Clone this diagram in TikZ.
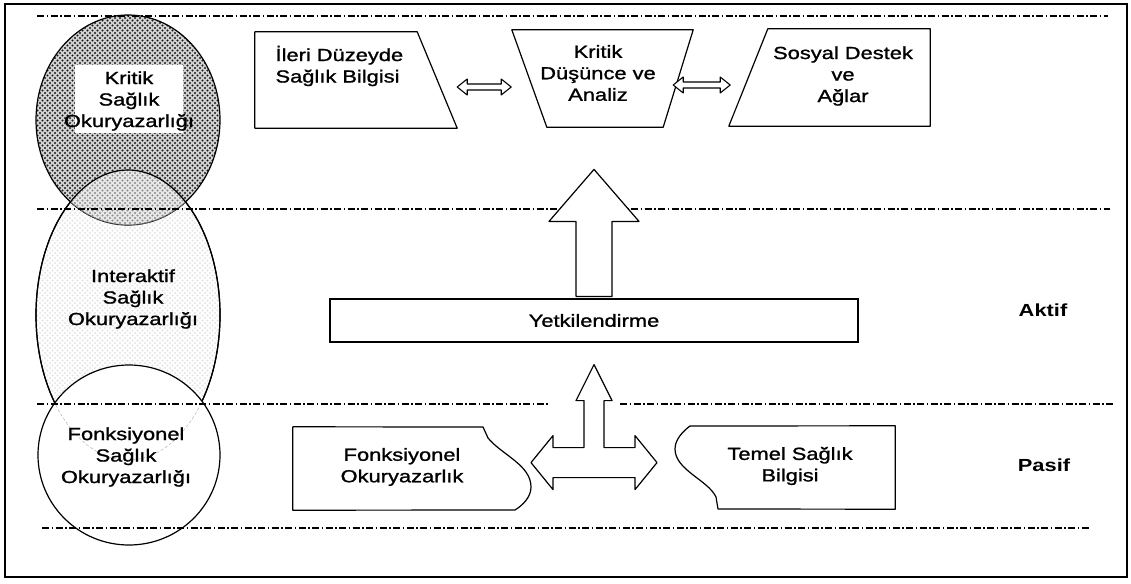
\documentclass[tikz,border=0pt]{standalone}
\usepackage{fontspec}
\setmainfont{Liberation Sans}[FakeStretch=1.25, UprightFeatures={FakeBold=1.2}]
\usetikzlibrary{calc, patterns}

\pgfdeclarepatternformonly{scandots}{\pgfpoint{-1.2pt}{-1.2pt}}{\pgfpoint{3.7pt}{3.7pt}}{\pgfpoint{5pt}{5pt}}{%
  \pgfpathcircle{\pgfpoint{0pt}{0pt}}{1.1pt}
  \pgfpathcircle{\pgfpoint{2.5pt}{2.5pt}}{1.1pt}
  \pgfusepath{fill}}

\begin{document}
\begin{tikzpicture}[
    x=1pt, y=-1pt,
    every node/.style={font=\fontsize{17.5}{21.5}\selectfont, align=center},
    area/.style 2 args={minimum width=#1, minimum height=#2, inner sep=0pt},
    shp/.style={draw, line width=1.2pt, line join=round},
    lvl/.style={line width=1.2pt, dash pattern=on 7pt off 2.5pt on 1.5pt off 2.5pt},
    dbl/.style={draw, fill=white, line width=1.1pt, line join=round},
    blk/.style={draw, fill=white, line width=1.2pt, line join=round},
    lbl/.style={font=\fontsize{17.5}{21.5}\selectfont\bfseries}
  ]
    \useasboundingbox (0,0) rectangle (1131,583);
    \draw[line width=2.4pt] (5,4) rectangle (1127,577);

    % literacy levels
    \draw[shp, preaction={fill=white}, pattern=scandots, pattern color=gray!22]
      (128,315) ellipse [x radius=92pt, y radius=145pt];
    \draw[shp, preaction={fill=gray!35}, pattern=scandots, pattern color=black!90]
      (128,120) ellipse [x radius=92pt, y radius=105pt];
    \begin{scope}
      \clip (128,315) ellipse [x radius=92pt, y radius=145pt];
      \fill[white, opacity=0.5] (128,120) ellipse [x radius=92pt, y radius=105pt];
      \draw[gray, densely dashed] (128,120) ellipse [x radius=92pt, y radius=105pt];
    \end{scope}
    \draw[shp] (128,315) ellipse [x radius=92pt, y radius=145pt];
    \draw[shp, fill=white] (129,455) ellipse [x radius=91pt, y radius=90pt];
    \begin{scope}
      \clip (129,455) ellipse [x radius=91pt, y radius=90pt];
      \draw[gray!70, densely dashed] (128,315) ellipse [x radius=92pt, y radius=145pt];
    \end{scope}

    \draw[lvl] (37,16) -- (1108,16);
    \draw[lvl] (37,209) -- (1110,209);
    \draw[lvl] (37,404) -- (550,404);
    \draw[lvl] (620,404) -- (1113,404);
    \draw[lvl] (42,528) -- (1090,528);

    \node[area={108pt}{68pt}, fill=white] (kritikbg) at (129,99) {};
    \node (kritiksk) at (129,101) {Kritik\\Sağlık\\Okuryazarlığı};
    \node (interaktif) at (133,299) {Interaktif\\Sağlık\\Okuryazarlığı};
    \node (fonksk) at (126,457) {Fonksiyonel\\Sağlık\\Okuryazarlığı};

    % top row
    \node[area={202pt}{96pt}] (ileri) at (356,80) {};
    \draw[shp] (ileri.north west) -- ($(ileri.north east)+(-40,0)$) -- (ileri.south east) -- (ileri.south west) -- cycle;
    \node[anchor=west, align=left] (ileritxt) at (272,66) {İleri Düzeyde\\Sağlık Bilgisi};

    \node[area={181pt}{97pt}] (kritik) at (602.5,78.5) {};
    \draw[shp] (kritik.north west) -- (kritik.north east) -- ($(kritik.south east)+(-30,0)$) -- ($(kritik.south west)+(35,0)$) -- cycle;
    \node (kritiktxt) at (598,73) {Kritik\\Düşünce ve\\Analiz};

    \node[area={201pt}{97pt}] (sosyal) at (829.5,77.5) {};
    \draw[shp] ($(sosyal.north west)+(39,0)$) -- (sosyal.north east) -- (sosyal.south east) -- (sosyal.south west) -- cycle;
    \node (sosyaltxt) at (843,76) {Sosyal Destek\\ve\\Ağlar};

    \draw[dbl, shift={([yshift=-7pt]ileri.east)}] (0,0) -- (10,-8) -- (10,-3) -- (44,-3) -- (44,-8) -- (54,0)
      -- (44,8) -- (44,3) -- (10,3) -- (10,8) -- cycle;
    \draw[dbl, shift={([xshift=-20pt,yshift=-6.5pt]kritik.east)}] (0,0) -- (10,-8) -- (10,-3) -- (47,-3) -- (47,-8) -- (57,0)
      -- (47,8) -- (47,3) -- (10,3) -- (10,8) -- cycle;

    % middle
    \node[draw, line width=1.2pt, minimum width=528pt, minimum height=43pt] (yet) at (594,320.5) {Yetkilendirme};
    \draw[blk, shift={(yet.north)}] (-18,-2) -- (-18,-77) -- (-45,-77) -- (0,-129) -- (45,-77) -- (18,-77) -- (18,-2) -- cycle;
    \draw[blk, shift={(yet.south)}] (0,22) -- (18,58) -- (10,58) -- (10,105) -- (41,105) -- (41,93) -- (63,120)
      -- (41,147) -- (41,135) -- (-41,135) -- (-41,147) -- (-63,120) -- (-41,93) -- (-41,105) -- (-10,105)
      -- (-10,58) -- (-18,58) -- cycle;

    % bottom row
    \node[area={237pt}{83pt}] (fonk) at (411.5,468.5) {};
    \draw[shp] (fonk.north west) -- (483,427) -- (488,438) .. controls (502,455) and (531,465) .. (531,487)
      .. controls (531,497) and (523,505) .. (515,510) -- (fonk.south west) -- cycle;
    \node (fonktxt) at (402,467) {Fonksiyonel\\Okuryazarlık};

    \node[area={220pt}{83pt}] (temel) at (785,467.5) {};
    \draw[shp] (690,426) -- (temel.north east) -- (temel.south east) -- (718,509) -- (716,497)
      .. controls (708,480) and (675,470) .. (675,449) .. controls (675,440) and (682,432) .. (690,426) -- cycle;
    \node (temeltxt) at (790,466) {Temel Sağlık\\Bilgisi};

    \node[lbl] (aktif) at (1043,310) {Aktif};
    \node[lbl] (pasif) at (1044,465) {Pasif};
  \end{tikzpicture}
\end{document}
